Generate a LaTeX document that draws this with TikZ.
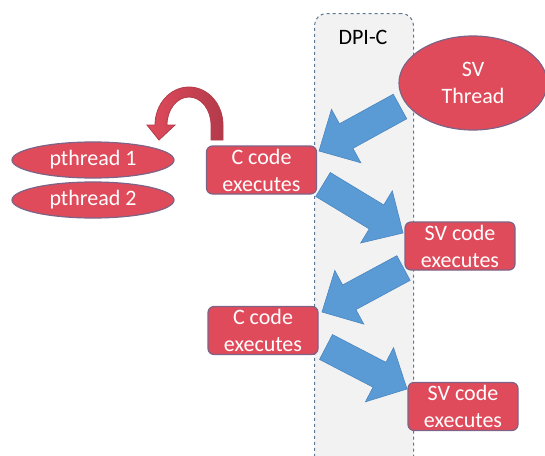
\documentclass[tikz,border=0pt]{standalone}
\usepackage{fontspec}
\setmainfont{Carlito}
\usetikzlibrary{calc,shapes.geometric}
\definecolor{boxred}{HTML}{E04B5B}
\definecolor{boxline}{HTML}{7D6386}
\definecolor{arrowblue}{HTML}{5B9BD5}
\definecolor{arrowline}{HTML}{4A86C0}
\definecolor{colfill}{HTML}{F2F2F2}
\definecolor{colline}{HTML}{5B7894}
\definecolor{curvedark}{HTML}{B33A4B}
\newcommand\shaftw{14pt}
\newcommand\headw{30.5pt}
\newcommand\headlen{31pt}
\newcommand\blockarrow[2]{%
  \coordinate (bah) at ($(#2)!\headlen!(#1)$);
  \path[bluearrow] ($(#1)!\shaftw!90:(#2)$) -- ($(bah)!\shaftw!-90:(#1)$)
    -- ($(bah)!\headw!-90:(#1)$) -- (#2) -- ($(bah)!\headw!90:(#1)$)
    -- ($(bah)!\shaftw!90:(#1)$) -- ($(#1)!\shaftw!-90:(#2)$) -- cycle;
}
\begin{document}
\begin{tikzpicture}[x=1pt,y=-1pt,
  txt/.style={font=\fontsize{22}{27}\selectfont, align=center},
  redbox/.style={txt, draw=boxline, line width=1.2pt, fill=boxred, rounded corners=6pt,
    text=white, minimum width=110pt, minimum height=48pt, inner sep=0pt},
  redell/.style={txt, draw=boxline, line width=1.2pt, fill=boxred, ellipse,
    text=white, inner sep=0pt},
  bluearrow/.style={fill=arrowblue, draw=arrowline, line width=0.6pt, line join=miter},
  column/.style={draw=colline, fill=colfill, dashed, line width=1pt, rounded corners=12pt,
    minimum width=99pt, minimum height=470pt, inner sep=0pt},
  curvearrow/.style={left color=boxred, right color=curvedark, draw=curvedark, line width=0.8pt}
]
\useasboundingbox (0,0) rectangle (545,455);
\clip (0,0) rectangle (545,455);
% DPI-C column
\node[column, anchor=north west] (dpi) at (314,13) {};
\node[txt, text=black] (dpilabel) at (363,37) {DPI-C};
% arrow endpoints
\coordinate (a1t) at (400,106.5);
\coordinate (a1h) at (319,151);
\coordinate (a2t) at (323,184.5);
\coordinate (a2h) at (403,233);
\coordinate (a3t) at (403.5,268);
\coordinate (a3h) at (322,312);
\coordinate (a4t) at (326,347);
\coordinate (a4h) at (407,389);
\blockarrow{a1t}{a1h}
\blockarrow{a2t}{a2h}
\blockarrow{a3t}{a3h}
\blockarrow{a4t}{a4h}
% nodes
\node[redell, minimum width=148pt, minimum height=94pt] (sv) at (473,83) {SV\\Thread};
\node[redbox] (c1) at (261.5,170) {C code\\executes};
\node[redbox] (sv1) at (460,246) {SV code\\executes};
\node[redbox] (c2) at (263,330.5) {C code\\executes};
\node[redbox] (sv2) at (463,406.5) {SV code\\executes};
\node[redell, minimum width=162pt, minimum height=36pt] (p1) at (93,160) {pthread 1};
\node[redell, minimum width=162pt, minimum height=36pt] (p2) at (93,200) {pthread 2};
% curved arrow from C code to pthreads
\path[curvearrow] (223,140) -- (223,125)
  arc[start angle=0, end angle=180, x radius=34pt, y radius=38pt]
  -- (147,125) -- (159,140) -- (175,125) -- (167,125)
  arc[start angle=180, end angle=0, x radius=22pt, y radius=28pt]
  -- (211,140) -- cycle;
\end{tikzpicture}
\end{document}
